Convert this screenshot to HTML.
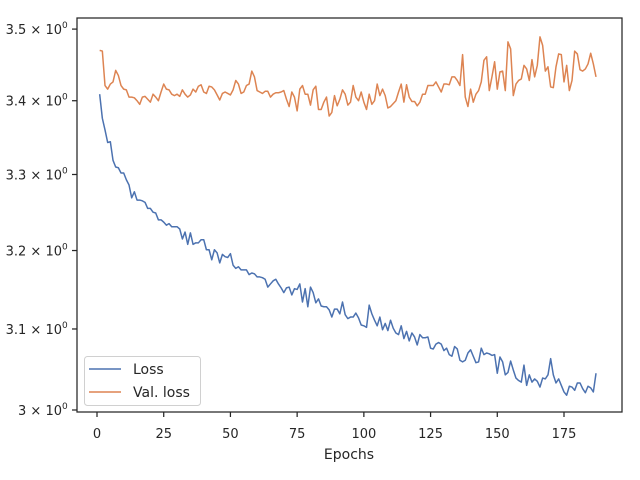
<!DOCTYPE html>
<html><head><meta charset="utf-8"><style>
body{margin:0;background:#fff;}
svg{display:block;font-family:"DejaVu Sans","Liberation Sans",sans-serif;}
</style></head><body>
<svg id="chart" width="640" height="480" viewBox="0 0 640 480">
<rect x="0" y="0" width="640" height="480" fill="#fff"/>
<g id="marks"></g>
<g id="axes"></g>
</svg>
<script>
const xTicks=[0,25,50,75,100,125,150,175];
const yTicks=[3.0,3.1,3.2,3.3,3.4,3.5];
const yTickLabels=["3 × 10","3.1 × 10","3.2 × 10","3.3 × 10","3.4 × 10","3.5 × 10"];
const seriesNames=["Loss","Val. loss"];
const loss=[3.409,3.376,3.360,3.343,3.344,3.319,3.310,3.309,3.302,3.302,3.293,3.286,3.269,3.277,3.266,3.266,3.265,3.263,3.255,3.255,3.250,3.249,3.240,3.240,3.237,3.233,3.235,3.231,3.231,3.231,3.228,3.215,3.224,3.208,3.223,3.208,3.210,3.210,3.214,3.214,3.201,3.201,3.188,3.201,3.197,3.184,3.195,3.192,3.191,3.196,3.181,3.177,3.179,3.175,3.175,3.175,3.169,3.171,3.170,3.166,
3.166,3.165,3.163,3.153,3.157,3.161,3.163,3.157,3.152,3.146,3.152,3.153,3.143,3.151,3.150,3.157,3.134,3.151,3.128,3.153,3.146,3.133,3.138,3.129,3.128,3.128,3.124,3.115,3.125,3.125,3.119,3.134,3.118,3.113,3.115,3.115,3.120,3.114,3.105,3.104,3.102,3.130,3.119,3.111,3.104,3.115,3.099,3.107,3.098,3.111,3.101,3.095,3.093,3.104,3.088,3.097,3.085,3.095,3.090,3.080,3.093,3.089,3.089,3.090,
3.076,3.075,3.081,3.083,3.081,3.073,3.076,3.068,3.066,3.078,3.075,3.061,3.059,3.061,3.070,3.074,3.066,3.058,3.059,3.076,3.068,3.070,3.069,3.067,3.068,3.045,3.065,3.059,3.043,3.046,3.060,3.049,3.039,3.036,3.034,3.055,3.030,3.043,3.034,3.038,3.035,3.028,3.039,3.038,3.043,3.063,3.043,3.033,3.038,3.030,3.022,3.018,3.029,3.028,3.024,3.033,3.033,3.026,3.021,3.029,3.027,3.022,3.045];
const valLoss=[3.470,3.469,3.421,3.416,3.423,3.426,3.442,3.435,3.421,3.416,3.415,3.405,3.405,3.404,3.400,3.395,3.405,3.406,3.402,3.398,3.409,3.405,3.400,3.412,3.423,3.416,3.415,3.409,3.407,3.409,3.406,3.415,3.409,3.405,3.408,3.416,3.412,3.420,3.422,3.412,3.410,3.420,3.419,3.415,3.408,3.401,3.410,3.412,3.410,3.408,3.415,3.428,3.423,3.410,3.412,3.421,3.423,3.441,3.433,3.414,
3.412,3.410,3.413,3.413,3.405,3.409,3.411,3.411,3.412,3.414,3.402,3.392,3.412,3.405,3.386,3.416,3.421,3.409,3.409,3.394,3.415,3.420,3.388,3.388,3.398,3.405,3.379,3.384,3.407,3.393,3.402,3.415,3.409,3.394,3.398,3.421,3.405,3.400,3.412,3.398,3.388,3.409,3.395,3.400,3.423,3.407,3.416,3.407,3.390,3.392,3.396,3.400,3.412,3.423,3.398,3.422,3.405,3.399,3.399,3.393,3.398,3.409,3.409,3.421,
3.421,3.421,3.426,3.419,3.412,3.423,3.423,3.422,3.433,3.433,3.428,3.421,3.464,3.405,3.392,3.416,3.398,3.409,3.414,3.426,3.456,3.461,3.414,3.433,3.454,3.416,3.440,3.441,3.414,3.482,3.472,3.407,3.423,3.428,3.430,3.449,3.444,3.428,3.457,3.433,3.449,3.489,3.477,3.441,3.447,3.419,3.418,3.447,3.465,3.464,3.426,3.449,3.414,3.428,3.469,3.465,3.443,3.441,3.444,3.451,3.466,3.451,3.433];

const NS="http://www.w3.org/2000/svg";
const L=77,R=622,T=18,B=412;
function xScale(e){return 97+e*(467/175);}
function yScale(v){return 410-Math.log(v/3)*2471;}
function mk(tag,attrs,parent){const el=document.createElementNS(NS,tag);for(const k in attrs)el.setAttribute(k,attrs[k]);parent.appendChild(el);return el;}
const marks=document.getElementById('marks'),axes=document.getElementById('axes');
function drawLine(vals,color,name){
  const pts=vals.map((v,i)=>xScale(i+1).toFixed(2)+","+yScale(v).toFixed(2)).join(" ");
  const p=mk('polyline',{points:pts,fill:"none",stroke:color,"stroke-width":"1.5","stroke-linejoin":"round"},marks);
  
  
}
drawLine(loss,"#4c72b0","loss-line");
drawLine(valLoss,"#dd8452","val-loss-line");
const fr=mk('rect',{x:L,y:T,width:R-L,height:B-T,fill:"none",stroke:"#262626","stroke-width":"1.25"},axes);


xTicks.forEach(t=>{
  const x=xScale(t);
  const tk=mk('line',{x1:x,y1:B,x2:x,y2:B+5,stroke:"#262626","stroke-width":"1.25"},axes);
  
  
  const tx=mk('text',{x:x,y:438,"text-anchor":"middle","font-size":"13",fill:"#262626"},axes);
  tx.textContent=String(t);
  
  
});
yTicks.forEach((t,i)=>{
  const y=yScale(t);
  const tk=mk('line',{x1:L-5,y1:y,x2:L,y2:y,stroke:"#262626","stroke-width":"1.25"},axes);
  
  
  const tx=mk('text',{x:62,y:y+5,"text-anchor":"end","font-size":"13",fill:"#262626"},axes);
  tx.textContent=yTickLabels[i];
  
  
  const sup=mk('text',{x:62,y:y-1,"font-size":"9",fill:"#262626"},axes);
  sup.textContent="0";
  
  
});
const xl=mk('text',{x:349,y:459,"text-anchor":"middle","font-size":"14",fill:"#262626"},axes);
xl.textContent="Epochs";


const lg=mk('g',{},axes);


mk('rect',{x:84.5,y:356.5,width:116,height:49,rx:3,fill:"#fff","fill-opacity":"0.8",stroke:"#d0d0d0"},lg);
const colors=["#4c72b0","#dd8452"];
seriesNames.forEach((n,i)=>{
  const y=369+i*23;
  const ln=mk('line',{x1:89,y1:y,x2:121,y2:y,stroke:colors[i],"stroke-width":"1.5"},lg);
  
  
  const tx=mk('text',{x:133,y:y+5,"font-size":"14",fill:"#262626"},lg);
  tx.textContent=n;
  
  
});
</script>
</body></html>
